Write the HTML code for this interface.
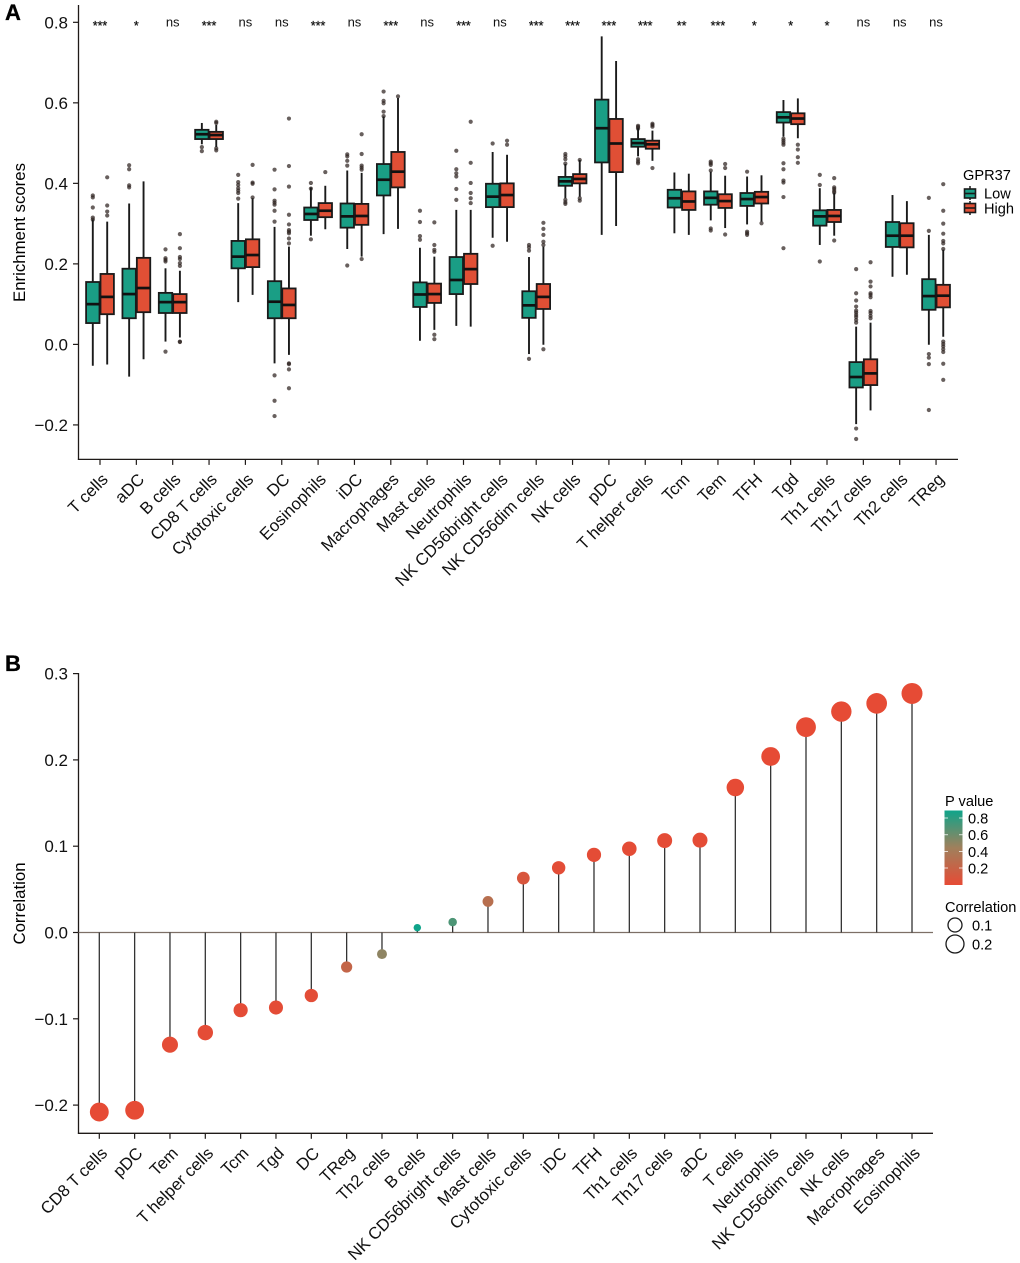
<!DOCTYPE html>
<html>
<head>
<meta charset="utf-8">
<title>GPR37 immune infiltration</title>
<style>
html,body{margin:0;padding:0;background:#fff;width:1020px;height:1263px;overflow:hidden}
svg{display:block;font-family:"Liberation Sans",Arial,sans-serif}
</style>
</head>
<body>
<svg id="fig" xmlns="http://www.w3.org/2000/svg" width="1020" height="1263" viewBox="0 0 1020 1263">
  <defs>
    <linearGradient id="pgrad" x1="0" y1="0" x2="0" y2="1">
      <stop offset="0" stop-color="#0fa48a"/>
      <stop offset="0.5" stop-color="#a0805c"/>
      <stop offset="1" stop-color="#e64b35"/>
    </linearGradient>
  </defs>
  <text x="5" y="20" font-size="22" font-weight="bold" stroke="#000" stroke-width=".3">A</text>
  <text x="5" y="671" font-size="22" font-weight="bold" stroke="#000" stroke-width=".3">B</text>
  <text transform="translate(25,232.5) rotate(-90)" text-anchor="middle" font-size="16.8">Enrichment scores</text>
  <text transform="translate(25,903.5) rotate(-90)" text-anchor="middle" font-size="16.8">Correlation</text>
  <g id="panelA"></g>
  <g id="panelB"></g>

  <g>
    <text x="963" y="180" font-size="14.6">GPR37</text>
    <g>
      <line x1="970" x2="970" y1="186" y2="200" stroke="#1a1a1a" stroke-width="1.5"/>
      <rect x="964.5" y="189" width="11" height="9" fill="#1a9e85" stroke="#1a1a1a" stroke-width="1.6"/>
      <line x1="964.5" x2="975.5" y1="193.5" y2="193.5" stroke="#1a1a1a" stroke-width="1.6"/>
      <text x="984" y="198.5" font-size="14.6">Low</text>
    </g>
    <g>
      <line x1="970" x2="970" y1="201" y2="215" stroke="#1a1a1a" stroke-width="1.5"/>
      <rect x="964.5" y="203.5" width="11" height="9" fill="#e04f35" stroke="#1a1a1a" stroke-width="1.6"/>
      <line x1="964.5" x2="975.5" y1="208" y2="208" stroke="#1a1a1a" stroke-width="1.6"/>
      <text x="984" y="213.5" font-size="14.6">High</text>
    </g>
  </g>

  <g>
    <text x="945" y="806" font-size="14.6">P value</text>
    <rect x="944.5" y="810.5" width="18" height="74.5" fill="url(#pgrad)"/>
    <g stroke="#fff" stroke-opacity=".75" stroke-width="1">
      <line x1="944.5" x2="948" y1="818" y2="818"/><line x1="959" x2="962.5" y1="818" y2="818"/>
      <line x1="944.5" x2="948" y1="834.7" y2="834.7"/><line x1="959" x2="962.5" y1="834.7" y2="834.7"/>
      <line x1="944.5" x2="948" y1="851.5" y2="851.5"/><line x1="959" x2="962.5" y1="851.5" y2="851.5"/>
      <line x1="944.5" x2="948" y1="868" y2="868"/><line x1="959" x2="962.5" y1="868" y2="868"/>
    </g>
    <text x="968" y="823.5" font-size="14.6">0.8</text>
    <text x="968" y="840" font-size="14.6">0.6</text>
    <text x="968" y="857" font-size="14.6">0.4</text>
    <text x="968" y="873.5" font-size="14.6">0.2</text>
  </g>
  <g>
    <text x="945" y="912" font-size="14.6">Correlation</text>
    <circle cx="955" cy="925" r="7" fill="#fff" stroke="#1a1a1a" stroke-width="1.3"/>
    <circle cx="955" cy="944" r="9" fill="#fff" stroke="#1a1a1a" stroke-width="1.3"/>
    <text x="972" y="930.5" font-size="14.6">0.1</text>
    <text x="972" y="949.5" font-size="14.6">0.2</text>
  </g>
</svg>

<script>
// ---------- Panel A data ----------
const boxCategories = ["T cells","aDC","B cells","CD8 T cells","Cytotoxic cells","DC","Eosinophils","iDC","Macrophages","Mast cells","Neutrophils","NK CD56bright cells","NK CD56dim cells","NK cells","pDC","T helper cells","Tcm","Tem","TFH","Tgd","Th1 cells","Th17 cells","Th2 cells","TReg"];
const sigLabels = ["***","*","ns","***","ns","ns","***","ns","***","ns","***","ns","***","***","***","***","**","***","*","*","*","ns","ns","ns"];
const boxTicks = [-0.2,0,0.2,0.4,0.6,0.8];
const boxTickLabels = ["\u22120.2","0.0","0.2","0.4","0.6","0.8"];
// [whisker low, q1, median, q3, whisker high]
const lowStats = [
[-0.053,0.053,0.100,0.155,0.310],[-0.080,0.065,0.125,0.188,0.350],[0.007,0.078,0.105,0.128,0.189],[0.497,0.510,0.522,0.533,0.550],
[0.105,0.189,0.218,0.257,0.351],[-0.047,0.065,0.106,0.157,0.292],[0.270,0.309,0.324,0.340,0.390],[0.237,0.290,0.318,0.350,0.432],
[0.274,0.370,0.409,0.448,0.566],[0.009,0.093,0.124,0.154,0.240],[0.046,0.125,0.160,0.217,0.334],[0.265,0.341,0.367,0.399,0.478],
[-0.024,0.066,0.097,0.132,0.217],[0.363,0.394,0.405,0.416,0.448],[0.272,0.452,0.537,0.608,0.765],[0.467,0.491,0.500,0.510,0.537],
[0.276,0.340,0.363,0.384,0.427],[0.308,0.347,0.364,0.380,0.429],[0.298,0.344,0.361,0.376,0.417],[0.516,0.551,0.564,0.577,0.607],
[0.247,0.295,0.318,0.333,0.388],[-0.198,-0.107,-0.081,-0.044,0.044],[0.168,0.242,0.270,0.304,0.371],[-0.001,0.086,0.120,0.162,0.272]];
const highStats = [
[-0.050,0.075,0.118,0.175,0.305],[-0.037,0.080,0.140,0.215,0.405],[0.017,0.078,0.105,0.125,0.183],[0.490,0.510,0.520,0.528,0.545],
[0.123,0.192,0.222,0.261,0.363],[-0.026,0.065,0.098,0.139,0.243],[0.286,0.316,0.332,0.351,0.394],[0.218,0.297,0.319,0.349,0.426],
[0.287,0.390,0.429,0.478,0.612],[0.036,0.103,0.125,0.151,0.218],[0.044,0.150,0.187,0.225,0.334],[0.255,0.341,0.371,0.400,0.471],
[-0.001,0.088,0.118,0.150,0.243],[0.367,0.400,0.411,0.423,0.458],[0.294,0.428,0.499,0.560,0.704],[0.456,0.486,0.497,0.506,0.531],
[0.272,0.334,0.355,0.380,0.424],[0.289,0.339,0.356,0.373,0.419],[0.305,0.350,0.366,0.379,0.420],[0.512,0.547,0.561,0.574,0.611],
[0.270,0.304,0.319,0.334,0.376],[-0.164,-0.101,-0.072,-0.037,0.054],[0.173,0.241,0.270,0.301,0.356],[0.019,0.092,0.121,0.148,0.235]];
const lowOutliers = [
[0.370,0.365,0.340,0.315,0.310],[0.445,0.435,0.395,0.390],[0.236,0.214,0.210,0.206,-0.018],[0.480,0.490],
[0.421,0.403,0.396,0.388,0.382,0.376,0.362],[0.434,0.385,0.357,0.352,0.347,0.332,0.305,-0.077,-0.140,-0.178],[0.401,0.387,0.261],[0.472,0.467,0.456,0.444,0.196],
[0.628,0.605,0.599,0.578,0.567],[0.332,0.304,0.269,0.260],[0.481,0.435,0.425,0.417,0.386,0.359],[0.499,0.245],
[0.247,0.241,0.233,-0.036],[0.473,0.467,0.460,0.449,0.359,0.353,0.349],[],[0.543,0.540,0.536,0.460,0.454,0.450],
[],[0.454,0.450,0.446,0.432,0.288,0.283],[0.429,0.280,0.276,0.272],[0.511,0.506,0.501,0.496,0.450,0.435,0.407,0.402,0.366,0.239],
[0.421,0.396,0.206],[0.187,0.127,0.109,0.094,0.084,0.079,0.073,0.068,0.061,0.054,-0.209,-0.235],[],[0.364,0.282,-0.024,-0.033,-0.049,-0.163]];
const highOutliers = [
[0.415,0.345,0.330,0.320],[],[0.274,0.239,0.217,0.212,0.202,0.195,0.007,0.006],[0.553,0.550,0.487,0.482],
[0.446,0.402,0.399,0.365],[0.561,0.443,0.392,0.322,0.298,0.284,0.280,0.276,0.263,0.251,-0.047,-0.049,-0.062,-0.109],[0.428],[0.522,0.473,0.444,0.439,0.434,0.212],
[0.616],[0.303,0.247,0.235,0.230,0.024,0.013],[0.553,0.451,0.401,0.376,0.363,0.351],[0.506,0.496],
[0.302,0.287,0.272,0.255,0.247,-0.012],[0.458,0.363,0.357],[],[0.548,0.545,0.541,0.438],
[],[0.448,0.438,0.273],[0.301],[0.496,0.484,0.465,0.451],
[0.413,0.390,0.386,0.381,0.377,0.258],[0.204,0.156,0.144,0.127,0.123,0.117,0.083,0.078,0.071,0.065],[],[0.398,0.332,0.300,0.275,0.257,0.251,0.237,0.007,0.001,-0.005,-0.012,-0.019,-0.048,-0.088]];

// ---------- Panel B data ----------
const lolliCategories = ["CD8 T cells","pDC","Tem","T helper cells","Tcm","Tgd","DC","TReg","Th2 cells","B cells","NK CD56bright cells","Mast cells","Cytotoxic cells","iDC","TFH","Th1 cells","Th17 cells","aDC","T cells","Neutrophils","NK CD56dim cells","NK cells","Macrophages","Eosinophils"];
const lolliCorrelation = [-0.208,-0.206,-0.130,-0.116,-0.090,-0.087,-0.073,-0.040,-0.025,0.0056,0.012,0.036,0.063,0.075,0.090,0.097,0.1065,0.107,0.168,0.204,0.238,0.256,0.2655,0.277];
const lolliPValue = [0.001,0.001,0.01,0.01,0.01,0.01,0.02,0.22,0.50,0.89,0.70,0.30,0.09,0.02,0.01,0.01,0.01,0.01,0.001,0.001,0.001,0.001,0.001,0.001];
const lolliTicks = [-0.2,-0.1,0,0.1,0.2,0.3];
const lolliTickLabels = ["\u22120.2","\u22120.1","0.0","0.1","0.2","0.3"];

const SVGNS = "http://www.w3.org/2000/svg";
function mk(tag, parent, attrs, text){
  const el = document.createElementNS(SVGNS, tag);
  for(const k in attrs) el.setAttribute(k, attrs[k]);
  if(text !== undefined) el.textContent = text;
  parent.appendChild(el);
  return el;
}
const slug = s => s.toLowerCase().replace(/[^a-z0-9]+/g,'-');
const INK = "#1f1a18";

// axis functions
const yA = v => 344.4 - v * 402.6;
const xA = i => 100 + i * 36.35;
const yB = v => 932.5 - v * 863;
const xB = i => 99.3 + i * 35.335;
const radius = v => 2.6 + 15 * Math.sqrt(Math.abs(v));
function pColor(p){
  const t = Math.min(1, p / 0.89);
  const a = [230,75,53], m = [160,128,92], b = [15,164,138];
  const u = t < 0.5 ? t * 2 : (t - 0.5) * 2;
  const from = t < 0.5 ? a : m, to = t < 0.5 ? m : b;
  return "rgb(" + from.map((c,j)=>Math.round(c + (to[j]-c)*u)).join(",") + ")";
}

function drawAxes(g, opts){
  const yl = mk('line', g, {x1:78.5,x2:78.5,y1:opts.top,y2:opts.bottom+0.6,stroke:INK,'stroke-width':1.3});
  
  
  const xl = mk('line', g, {x1:77.9,x2:opts.right,y1:opts.bottom,y2:opts.bottom,stroke:INK,'stroke-width':1.3});
  
  
  opts.ticks.forEach((v,i)=>{
    const y = opts.y(v);
    const t = mk('line', g, {x1:73,x2:78.5,y1:y,y2:y,stroke:INK,'stroke-width':1.2});
    
    
    const l = mk('text', g, {x:68,y:y+6,'text-anchor':'end','font-size':17,fill:'#111'}, opts.tickLabels[i]);
    
    
  });
  opts.cats.forEach((c,i)=>{
    const x = opts.x(i);
    const t = mk('line', g, {x1:x,x2:x,y1:opts.bottom,y2:opts.bottom+5.5,stroke:INK,'stroke-width':1.2});
    
    
    const l = mk('text', g, {transform:'translate('+(x+9)+','+(opts.bottom+21)+') rotate(-45)','text-anchor':'end','font-size':16.8,fill:'#111'}, c);
    
    
  });
}

// ---------- Panel A ----------
const gA = document.getElementById('panelA');
drawAxes(gA, {prefix:'boxplot',top:5,bottom:459.4,right:958,ticks:boxTicks,tickLabels:boxTickLabels,y:yA,x:xA,cats:boxCategories});

function drawBox(g, cx, stats, outliers, fill, name){
  const box = mk('g', g, {});
  
  
  outliers.forEach(v=>{
    const o = mk('circle', box, {cx:cx,cy:yA(v),r:2.1,fill:'#2e2320','fill-opacity':0.72});
    
    
  });
  const w = mk('line', box, {x1:cx,x2:cx,y1:yA(stats[0]),y2:yA(stats[4]),stroke:'#1a1a1a','stroke-width':1.9});
  
  
  const r = mk('rect', box, {x:cx-6.7,width:13.4,y:yA(stats[3]),height:yA(stats[1])-yA(stats[3]),fill:fill,stroke:'#1a1a1a','stroke-width':1.8});
  
  
  const m = mk('line', box, {x1:cx-6.7,x2:cx+6.7,y1:yA(stats[2]),y2:yA(stats[2]),stroke:'#111','stroke-width':2.7});
  
  
}
boxCategories.forEach((c,i)=>{
  const x = xA(i);
  drawBox(gA, x-7.2, lowStats[i], lowOutliers[i], '#1a9e85', 'box-low-' + slug(c));
  drawBox(gA, x+7.2, highStats[i], highOutliers[i], '#e04f35', 'box-high-' + slug(c));
  const isNs = sigLabels[i] === 'ns';
  const s = mk('text', gA, {x:x,y:isNs ? 26.3 : 30,'text-anchor':'middle','font-size':isNs ? 13 : 12.5,fill:'#111',stroke:isNs ? 'none' : '#111','stroke-width':0.25}, sigLabels[i]);
  
  
});

// ---------- Panel B ----------
const gB = document.getElementById('panelB');
drawAxes(gB, {prefix:'lollipop',top:673,bottom:1133.3,right:933,ticks:lolliTicks,tickLabels:lolliTickLabels,y:yB,x:xB,cats:lolliCategories});
const zero = mk('line', gB, {x1:78.5,x2:933,y1:yB(0),y2:yB(0),stroke:'#7d6f66','stroke-width':1.2});


lolliCategories.forEach((c,i)=>{
  const x = xB(i), v = lolliCorrelation[i];
  const st = mk('line', gB, {x1:x,x2:x,y1:yB(0),y2:yB(v),stroke:'#333','stroke-width':1.3});
  
  
  const pt = mk('circle', gB, {cx:x,cy:yB(v),r:radius(v),fill:pColor(lolliPValue[i])});
  
  
});
</script>
</body>
</html>
